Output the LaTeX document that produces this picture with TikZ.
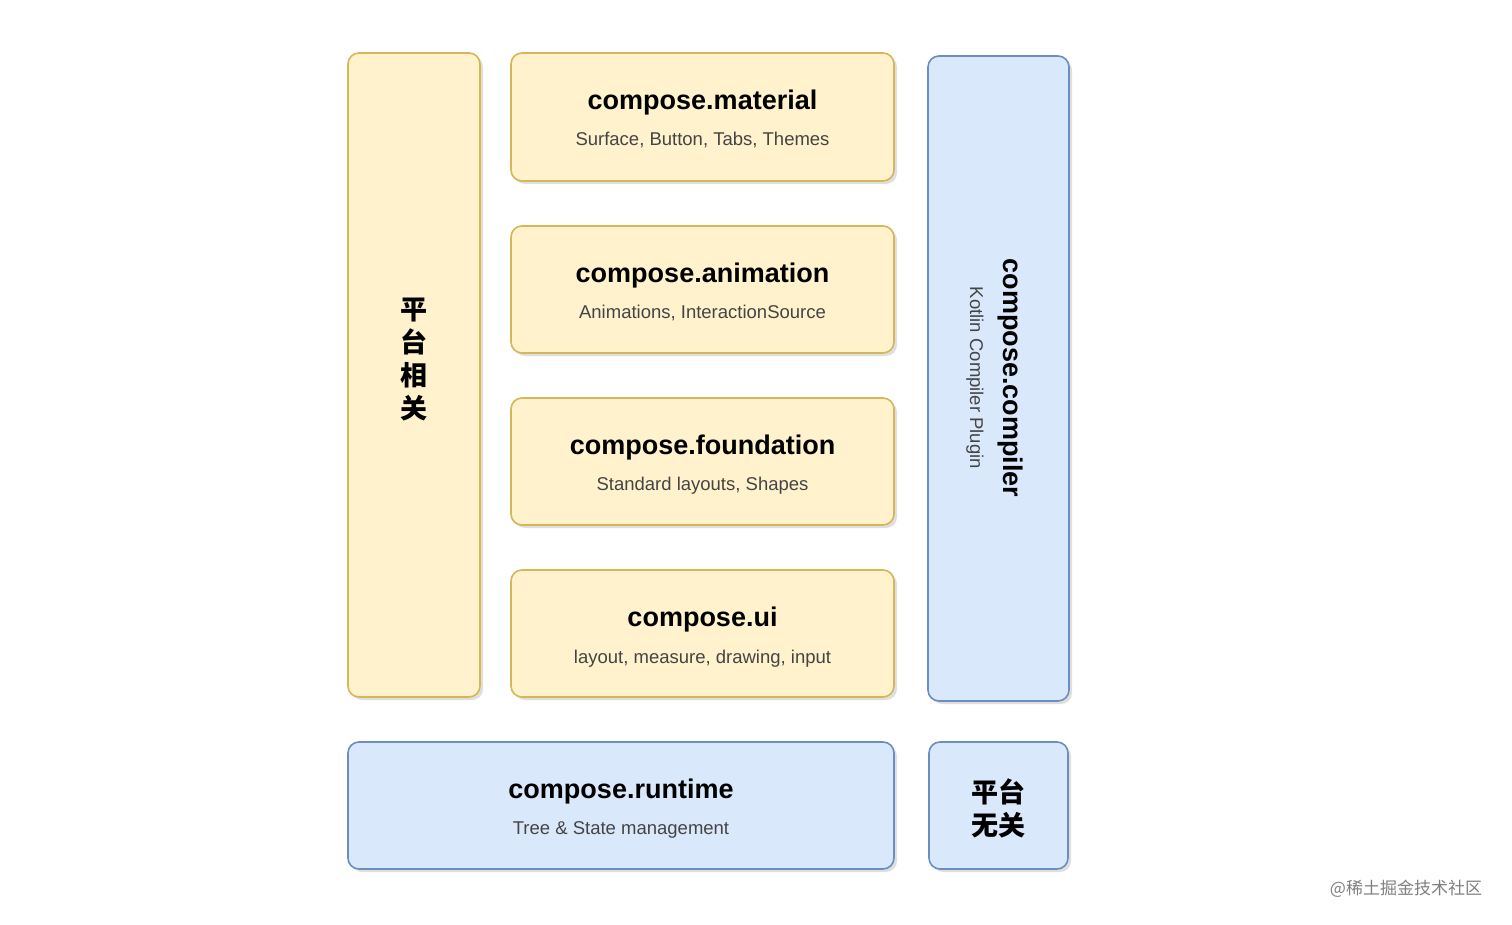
\documentclass[tikz,border=0pt]{standalone}
\usepackage{fontspec}
\setmainfont{Liberation Sans}
\newfontfamily\cjk{Noto Sans CJK SC}
\usetikzlibrary{shadows}
\definecolor{yfill}{HTML}{FFF2CC}
\definecolor{ydraw}{HTML}{D6B656}
\definecolor{bfill}{HTML}{DAE8FC}
\definecolor{bdraw}{HTML}{6C8EBF}
\definecolor{subc}{HTML}{444444}
\tikzset{
  box/.style={rounded corners=11pt, line width=1.6pt, drop shadow={shadow xshift=3pt,shadow yshift=-3pt,opacity=0.25}},
  ybox/.style={box, fill=yfill, draw=ydraw},
  bbox/.style={box, fill=bfill, draw=bdraw},
  ttl/.style={font=\bfseries\fontsize{27}{30}\selectfont, text=black},
  sub/.style={font=\fontsize{18.5}{22}\selectfont, text=subc},
  cn/.style={font=\cjk\bfseries\fontsize{27}{33}\selectfont, align=center, text=black}
}
\begin{document}
\begin{tikzpicture}[x=1pt,y=-1pt]
\useasboundingbox[fill=white] (0,0) rectangle (1512,925);
\draw[ybox] (348,53) rectangle (480,697) node[coordinate] (pl) {};
\node[cn] (pt) at (414,360) {平\\台\\相\\关};
\draw[ybox] (511,53) rectangle (894,181);
\node[ttl] (t1) at (702.5,103) {compose.material};
\node[sub] (s1) at (702.5,140) {Surface, Button, Tabs, Themes};
\draw[ybox] (511,226) rectangle (894,353);
\node[ttl] (t2) at (702.5,276) {compose.animation};
\node[sub] (s2) at (702.5,313) {Animations, InteractionSource};
\draw[ybox] (511,398) rectangle (894,525);
\node[ttl] (t3) at (702.5,448) {compose.foundation};
\node[sub] (s3) at (702.5,486) {Standard layouts, Shapes};
\draw[ybox] (511,570) rectangle (894,697);
\node[ttl] (t4) at (702.5,620) {compose.ui};
\node[sub] (s4) at (702.5,659) {layout, measure, drawing, input};
\draw[bbox] (928,56) rectangle (1069,701);
\node[ttl, rotate=-90] (tc) at (1010,378) {compose.compiler};
\node[sub, rotate=-90] (sc) at (975,378) {Kotlin Compiler Plugin};
\draw[bbox] (348,742) rectangle (894,869);
\node[ttl] (tr) at (621,792) {compose.runtime};
\node[sub] (sr) at (621,830) {Tree \& State management};
\draw[bbox] (929,742) rectangle (1068,869);
\node[cn] (pw) at (998,808) {平台\\无关};
\node[font=\cjk\fontsize{17}{20}\selectfont, text=gray] (wm) at (1406,889) {@稀土掘金技术社区};
\end{tikzpicture}
\end{document}
